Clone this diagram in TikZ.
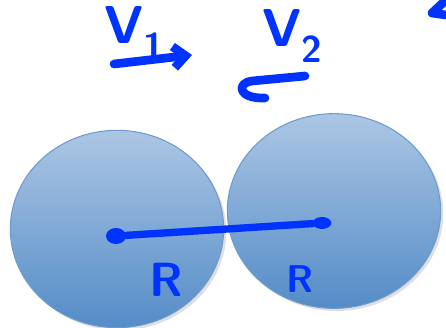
\documentclass[tikz,border=0pt]{standalone}
\usepackage{tikz}
\usetikzlibrary{arrows.meta,shapes.geometric,shadows}
\definecolor{penblue}{RGB}{0,51,255}
\definecolor{balltop}{RGB}{172,198,228}
\definecolor{ballbot}{RGB}{84,140,199}
\definecolor{ballrim}{RGB}{110,155,205}
\tikzset{
  ball/.style={ellipse,draw=ballrim,thick,top color=balltop,bottom color=ballbot,
    drop shadow={opacity=0.25,shadow xshift=2pt,shadow yshift=-2pt}}, % sphere
  pen/.style={penblue,line width=6.5pt,line cap=round,line join=round},  % pen stroke
  dot/.style={ellipse,fill=penblue,inner sep=0pt,minimum width=15pt,minimum height=12pt},
  hand/.style={penblue,font=\sffamily\bfseries,inner sep=0pt},
}
\begin{document}
\begin{tikzpicture}[x=0.75pt,y=-0.75pt]
  \useasboundingbox (0,0) rectangle (446,328);
  % the two spheres
  \node[ball,minimum width=160pt,minimum height=148pt] (lball) at (117,229) {};
  \node[ball,minimum width=160pt,minimum height=146pt] (rball) at (334,211) {};
  % radius line
  \node[dot] (lc) at (116,236) {};
  \node[dot,minimum width=14pt,minimum height=9pt] (rc) at (322,223) {};
  \draw[pen,line width=5.5pt] (lc) -- (rc);
  \node[hand,font=\sffamily\bfseries\fontsize{36}{38}\selectfont] (lr) at (166,280) {R};
  \node[hand,font=\sffamily\bfseries\fontsize{29}{30}\selectfont] (rr) at (300,279) {R};
  % velocities
  \node[hand,font=\sffamily\bfseries\fontsize{40}{42}\selectfont] (v1) at (135,33) {V\textsubscript{1}};
  \node[hand,font=\sffamily\bfseries\fontsize{40}{42}\selectfont] (v2) at (293,36) {V\textsubscript{2}};
  \coordinate (v1a) at (114,64);
  \coordinate (v1b) at (192,55);
  \draw[pen,-{Straight Barb[length=9pt,width=16pt]}] (v1a) -- (v1b);
  \coordinate (v2a) at (305,76);
  \coordinate (v2b) at (252,81);
  \coordinate (v2c) at (265,98);
  \draw[pen] (v2a) -- (v2b) .. controls (236,83) and (238,99) .. (v2c);
  % stray stroke at the corner
  \coordinate (za) at (446,0);
  \coordinate (zb) at (432,13);
  \coordinate (zc) at (446,15);
  \draw[pen] (za) -- (zb) -- (zc);
\end{tikzpicture}
\end{document}
